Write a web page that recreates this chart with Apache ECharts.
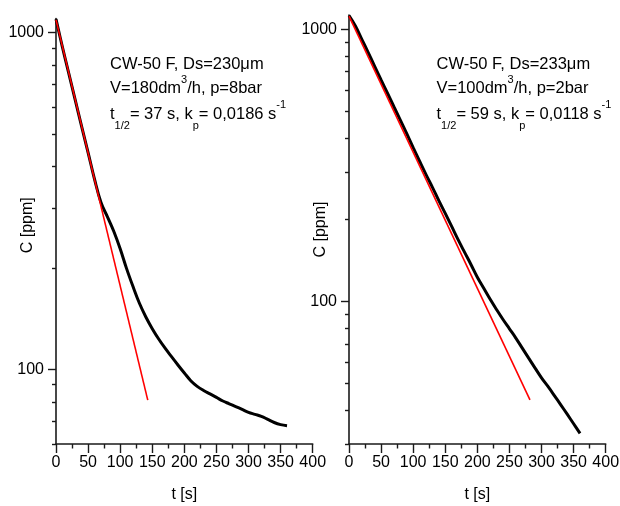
<!DOCTYPE html>
<html>
<head>
<meta charset="utf-8">
<script src="https://cdn.jsdelivr.net/npm/echarts@6/dist/echarts.min.js"></script>
<style>html,body{margin:0;padding:0;background:#fff}#c{width:620px;height:506px}</style>
</head>
<body>
<div id="c"></div>
<script>
// ---- data ----
const tLeft = [0,10,20,30,40,50,60,70,80,90,100,110,120,130,140,150,160,170,180,190,200,210,220,230,240,250,260,270,280,290,300,310,320,330,340,350,360];
const cLeft = [1095,905,755,630,525,440,367,313,284,257,228,199,176,157,143,132,123,115.5,109,103,97.5,92.5,89,86.5,84.5,82.5,80.5,79,77.5,76,74.5,73.5,72.5,71,69.5,68.5,68];
const fitLeftT = [0,143];
const fitLeftC = [1090,81];

const tRight = [0,10,20,30,40,50,60,70,80,90,100,110,120,130,140,150,160,170,180,190,200,210,220,230,240,250,260,270,280,290,300,310,320,330,340,350,360];
const cRight = [1125,1030,920,822,732,652,583,520,464,414,368,328,293,263,235,211,189,169,152,137,123,112,102,93.5,86,79.5,73.5,67.5,62,57,52.5,48.8,45.2,41.8,38.6,35.6,32.8];
const fitRightT = [0,282];
const fitRightC = [1120,43.6];

const yMajor = [100,1000];
const yMinorLeft = [60,70,80,90,200,300,400,500,600,700,800,900];
const yMinorRight = [30,40,50,60,70,80,90,200,300,400,500,600,700,800,900];

const textLeft = ['CW-50 F, Ds=230\u03bcm', ['V=180dm','3','/h, p=8bar'], ['t','1/2','= 37 s, k','p','= 0,0186 s','-1']];
const textRight = ['CW-50 F, Ds=233\u03bcm', ['V=100dm','3','/h, p=2bar'], ['t','1/2','= 59 s, k','p','= 0,0118 s','-1']];

// ---- chart ----
const FF = '"Liberation Sans", Arial, sans-serif';
const AX = '#1a1a1a';
const pairs = (xs, ys) => xs.map((x, i) => [x, ys[i]]);

const grids = [
  {left: 56, top: 18.5, width: 256.7, height: 425.5},
  {left: 349, top: 15, width: 256.7, height: 429}
];
const yRange = [[60,1100],[30,1130]];

function xAxis(g) {
  return {
    type: 'value', gridIndex: g, min: 0, max: 400, interval: 50,
    name: 't [s]', nameLocation: 'middle', nameGap: 43, nameMoveOverlap: false,
    nameTextStyle: {fontFamily: FF, fontSize: 16, color: '#000'},
    axisLine: {show: true, lineStyle: {color: AX, width: 1.6}},
    axisTick: {show: true, length: 9, lineStyle: {color: AX, width: 1.4}},
    minorTick: {show: true, splitNumber: 2, length: 4.5, lineStyle: {color: AX, width: 1.4}},
    axisLabel: {fontFamily: FF, fontSize: 16, color: '#000', margin: 11, showMinLabel: true, showMaxLabel: true, hideOverlap: false},
    splitLine: {show: false}, minorSplitLine: {show: false}
  };
}
function yMajorAxis(g, namePad) {
  return {
    type: 'log', gridIndex: g, min: yRange[g][0], max: yRange[g][1], logBase: 10,
    name: 'C [ppm]', nameLocation: 'middle', nameGap: 20, nameMoveOverlap: false,
    nameTextStyle: {fontFamily: FF, fontSize: 16, color: '#000', padding: namePad},
    axisLine: {show: true, lineStyle: {color: AX, width: 1.6}},
    axisTick: {show: true, length: 8, customValues: yMajor, lineStyle: {color: AX, width: 1.4}},
    axisLabel: {fontFamily: FF, fontSize: 16, color: '#000', margin: 12, customValues: yMajor, formatter: v => String(Math.round(v))},
    splitLine: {show: false}
  };
}
function yMinorAxis(g, vals) {
  return {
    type: 'log', gridIndex: g, min: yRange[g][0], max: yRange[g][1], logBase: 10,
    position: 'left',
    axisLine: {show: false},
    axisTick: {show: true, length: 4, customValues: vals, lineStyle: {color: AX, width: 1.4}},
    axisLabel: {show: false},
    splitLine: {show: false}
  };
}

function textEls(x, lines) {
  const rich = {
    n: {fontFamily: FF, fontSize: 16.5, lineHeight: 20, padding: [6,0,0,0], verticalAlign: 'top', fill: '#000', color: '#000'},
    sub: {fontFamily: FF, fontSize: 11, lineHeight: 11, padding: [21,0,0,0], verticalAlign: 'top', fill: '#000', color: '#000'},
    sup: {fontFamily: FF, fontSize: 11, lineHeight: 11, padding: [0,0,0,0], verticalAlign: 'top', fill: '#000', color: '#000'}
  };
  const s2 = '{n|' + lines[1][0] + '}{sup|' + lines[1][1] + '}{n|' + lines[1][2] + '}';
  const s3 = '{n|' + lines[2][0] + '}{sub|' + lines[2][1] + '}{n|' + lines[2][2] + '}{sub|' + lines[2][3] + '}{n|' + lines[2][4] + '}{sup|' + lines[2][5] + '}';
  const tops = [49.5, 74, 99.5];
  return [
    {type: 'text', left: x, top: tops[0], style: {text: '{n|' + lines[0] + '}', rich: rich}},
    {type: 'text', left: x, top: tops[1], style: {text: s2, rich: rich}},
    {type: 'text', left: x, top: tops[2], style: {text: s3, rich: rich}}
  ];
}

const chart = echarts.init(document.getElementById('c'), null, {renderer: 'canvas'});
chart.setOption({
  animation: false,
  backgroundColor: '#fff',
  grid: grids.map(g => Object.assign({outerBoundsMode: 'none', containLabel: false}, g)),
  xAxis: [xAxis(0), xAxis(1)],
  yAxis: [yMajorAxis(0, [0,0,0,12]), yMajorAxis(1, [0,0,0,0]), yMinorAxis(0, yMinorLeft), yMinorAxis(1, yMinorRight)],
  series: [
    {type: 'line', xAxisIndex: 0, yAxisIndex: 0, data: pairs(tLeft, cLeft), showSymbol: false, smooth: 0.4, lineStyle: {color: '#000', width: 3}, z: 2},
    {type: 'line', xAxisIndex: 0, yAxisIndex: 0, data: pairs(fitLeftT, fitLeftC), showSymbol: false, lineStyle: {color: '#ff0000', width: 1.6}, z: 3},
    {type: 'line', xAxisIndex: 1, yAxisIndex: 1, data: pairs(tRight, cRight), showSymbol: false, smooth: 0.4, lineStyle: {color: '#000', width: 3}, z: 2},
    {type: 'line', xAxisIndex: 1, yAxisIndex: 1, data: pairs(fitRightT, fitRightC), showSymbol: false, lineStyle: {color: '#ff0000', width: 1.6}, z: 3}
  ],
  graphic: textEls(110, textLeft).concat(textEls(436.5, textRight))
});
</script>
</body>
</html>
